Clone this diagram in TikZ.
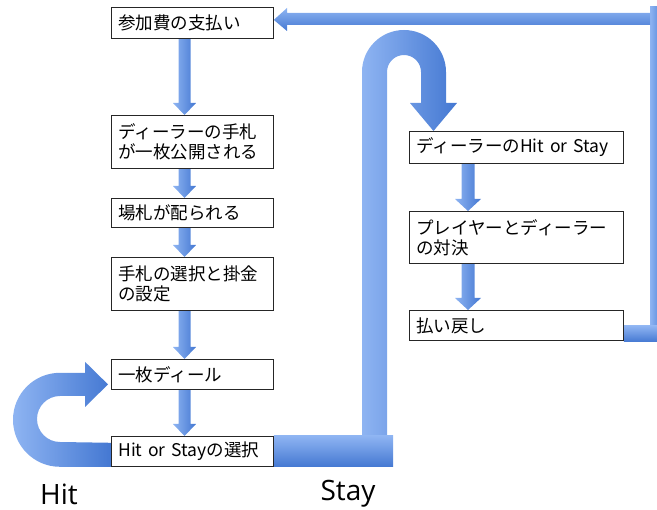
\documentclass[tikz,border=0pt]{standalone}
\usepackage{fontspec}
\setmainfont{Noto Sans CJK JP}
\newfontfamily\labelfont{Open Sans}
\usetikzlibrary{calc}
\definecolor{blueL}{HTML}{8EB4F2}
\definecolor{blueD}{HTML}{4478D2}
\tikzset{
  basebox/.style={draw=black!85, line width=0.8pt, fill=white, anchor=north west,
    inner xsep=7pt, inner ysep=0pt, align=left, font=\fontsize{17.5}{20}\selectfont},
  lbox/.style={basebox, text width=148pt},
  rbox/.style={basebox, text width=200pt},
  vshade/.style={left color=blueL, right color=blueD},
  hshade/.style={top color=blueL, bottom color=blueD},
  ushade/.style={left color=blueL, right color=blueD},
  lab/.style={font=\labelfont\fontsize{28}{30}\selectfont, inner sep=1pt}
}
% vertical block arrow: #1 column coordinate, #2 from node, #3 to node, #4 shaft half width, #5 head half width
\newcommand\vblock[5]{%
  \shade[vshade] ($(#1 |- #2.south)+(-#4,0)$) -- ($(#1 |- #3.north)+(-#4,-12)$)
    -- ($(#1 |- #3.north)+(-#5,-12)$) -- (#1 |- #3.north)
    -- ($(#1 |- #3.north)+(#5,-12)$) -- ($(#1 |- #3.north)+(#4,-12)$)
    -- ($(#1 |- #2.south)+(#4,0)$) -- cycle;}
\begin{document}
\begin{tikzpicture}[x=1pt,y=-1pt]
\useasboundingbox (0,0) rectangle (657,510);
\clip (0,0) rectangle (657,510);

% boxes (placed first so arrows can refer to them)
\node[lbox, minimum height=31pt] (b1) at (111,7) {参加費の支払い};
\node[lbox, minimum height=53pt] (b2) at (111,115) {ディーラーの手札\\が一枚公開される};
\node[lbox, minimum height=29pt] (b3) at (111,198) {場札が配られる};
\node[lbox, minimum height=53pt] (b4) at (111,257) {手札の選択と掛金\\の設定};
\node[lbox, minimum height=30pt] (b5) at (111,359) {一枚ディール};
\node[lbox, minimum height=30pt] (b6) at (111,436) {Hit or Stayの選択};
\node[rbox, minimum height=32pt] (b7) at (409,131) {ディーラーのHit or Stay};
\node[rbox, minimum height=52pt] (b8) at (409,211) {プレイヤーとディーラー\\の対決};
\node[rbox, minimum height=30pt] (b9) at (409,310) {払い戻し};

\coordinate (cl) at (184.5,0);
\coordinate (cr) at (468,0);

% straight down arrows
\vblock{cl}{b1}{b2}{6}{11.5}
\vblock{cl}{b2}{b3}{6}{11.5}
\vblock{cl}{b3}{b4}{6}{11.5}
\vblock{cl}{b4}{b5}{6}{11.5}
\vblock{cl}{b5}{b6}{6}{11.5}
\vblock{cr}{b7}{b8}{6.5}{13}
\vblock{cr}{b8}{b9}{6.5}{13}

% Hit loop
\shade[ushade] (b6.south west) -- ++(-51,0) arc[start angle=90, end angle=270, radius=47]
  -- ++(25,0) -- ++(0,-11) -- ($(b5.west)+(-3,10)$) -- (85,407) -- (85,396) -- (60,396)
  arc[start angle=270, end angle=90, radius=23] -- ($(b6.south west)+(0,-24)$) -- cycle;

% Stay path
\shade[ushade] (362,440) -- (362,72) arc[start angle=180, end angle=360, radius=42]
  -- (446,103) -- (457,103) -- ($(b7.north west)+(24.5,0)$) -- (410,103) -- (421,103)
  -- (421,72) arc[start angle=360, end angle=180, radius=17] -- (387,440) -- cycle;
\shade[hshade] (b6.north east) rectangle (393,467);

% return path
\shade[vshade] (650,7) rectangle (665,330);
\shade[hshade] ($(b9.north east)+(0,16)$) rectangle (665,342);
\shade[hshade] (650,13) -- (287,13) -- (287,8) -- ($(b1.east)+(0,-3)$) -- (287,31)
  -- (287,25) -- (650,25) -- cycle;

% redraw box outlines on top of arrows
\foreach \n in {b1,b2,b3,b4,b5,b6,b7,b8,b9}
  \draw[draw=black!85, line width=0.8pt] (\n.south west) rectangle (\n.north east);

\node[lab] (hit) at (59,494) {Hit};
\node[lab] (stay) at (348,494) {Stay};
\end{tikzpicture}
\end{document}
